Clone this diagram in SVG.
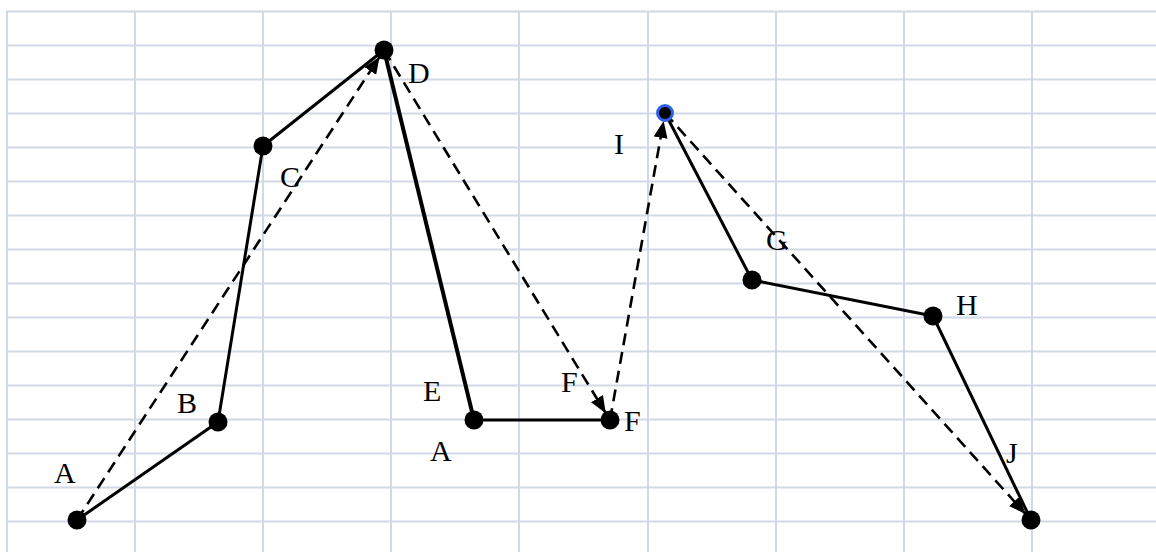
<svg xmlns="http://www.w3.org/2000/svg" width="1156" height="552" viewBox="0 0 1156 552">
<style>
.grid line{stroke:#d2d9e6;stroke-width:2}
.solid{fill:none;stroke:#000;stroke-width:3;stroke-linejoin:round}
.thick{fill:none;stroke:#000;stroke-width:4}
.dash{fill:none;stroke:#000;stroke-width:2.6;stroke-dasharray:12 7}
.dot{fill:#000}
.lbl{font-family:"Liberation Serif","Times New Roman",serif;font-size:30px;fill:#000}
</style>
<defs>
<marker id="arr" markerUnits="userSpaceOnUse" markerWidth="18" markerHeight="14" refX="17" refY="7" orient="auto">
<path d="M0,0 L17,7 L0,14 z" fill="#000"/>
</marker>
</defs>
<rect width="1156" height="552" fill="#fff"/>
<g class="grid" id="grid">
<line x1="6" y1="11.5" x2="1156" y2="11.5"/>
<line x1="6" y1="45.5" x2="1156" y2="45.5"/>
<line x1="6" y1="79.5" x2="1156" y2="79.5"/>
<line x1="6" y1="113.5" x2="1156" y2="113.5"/>
<line x1="6" y1="147.5" x2="1156" y2="147.5"/>
<line x1="6" y1="181.5" x2="1156" y2="181.5"/>
<line x1="6" y1="215.5" x2="1156" y2="215.5"/>
<line x1="6" y1="249.5" x2="1156" y2="249.5"/>
<line x1="6" y1="283.5" x2="1156" y2="283.5"/>
<line x1="6" y1="317.5" x2="1156" y2="317.5"/>
<line x1="6" y1="351.5" x2="1156" y2="351.5"/>
<line x1="6" y1="385.5" x2="1156" y2="385.5"/>
<line x1="6" y1="419.5" x2="1156" y2="419.5"/>
<line x1="6" y1="453.5" x2="1156" y2="453.5"/>
<line x1="6" y1="487.5" x2="1156" y2="487.5"/>
<line x1="6" y1="521.5" x2="1156" y2="521.5"/>
<line x1="7" y1="11.5" x2="7" y2="552"/>
<line x1="135" y1="11.5" x2="135" y2="552"/>
<line x1="263" y1="11.5" x2="263" y2="552"/>
<line x1="391" y1="11.5" x2="391" y2="552"/>
<line x1="519" y1="11.5" x2="519" y2="552"/>
<line x1="648" y1="11.5" x2="648" y2="552"/>
<line x1="776" y1="11.5" x2="776" y2="552"/>
<line x1="904" y1="11.5" x2="904" y2="552"/>
<line x1="1032" y1="11.5" x2="1032" y2="552"/>
</g>
<g id="connectors">
<polyline class="solid" points="77,520 218,422 263,146 384,50"/>
<line class="thick" x1="384" y1="50" x2="474" y2="420"/>
<line class="solid" x1="474" y1="420" x2="610" y2="420"/>
<polyline class="solid" points="665,113 752,280 933,316 1031,520"/>
<line class="dash" x1="77" y1="520" x2="379.6" y2="56.7" marker-end="url(#arr)"/>
<line class="dash" x1="384" y1="50" x2="605.8" y2="413.2" marker-end="url(#arr)"/>
<line class="dash" x1="610" y1="420" x2="663.6" y2="120.9" marker-end="url(#arr)"/>
<line class="dash" x1="665" y1="113" x2="1025.6" y2="514" marker-end="url(#arr)"/>
</g>
<g id="node-A"><circle class="dot" cx="77" cy="520" r="9.5"/><text class="lbl" x="54" y="483">A</text></g>
<g id="node-B"><circle class="dot" cx="218" cy="422" r="9.5"/><text class="lbl" x="177" y="413">B</text></g>
<g id="node-C"><circle class="dot" cx="263" cy="146" r="9.5"/><text class="lbl" x="280" y="187">C</text></g>
<g id="node-D"><circle class="dot" cx="384" cy="50" r="9.5"/><text class="lbl" x="408" y="83">D</text></g>
<g id="node-E"><circle class="dot" cx="474" cy="420" r="9.5"/><text class="lbl" x="423" y="401">E</text><text class="lbl" x="430" y="461">A</text></g>
<g id="node-F"><circle class="dot" cx="610" cy="420" r="9.5"/><text class="lbl" x="561" y="392">F</text><text class="lbl" x="624" y="431">F</text></g>
<g id="node-I"><circle cx="665" cy="113" r="7.5" fill="#000" stroke="#2f62e8" stroke-width="3"/><text class="lbl" x="614" y="154">I</text></g>
<g id="node-G"><circle class="dot" cx="752" cy="280" r="9.5"/><text class="lbl" x="766" y="250">G</text></g>
<g id="node-H"><circle class="dot" cx="933" cy="316" r="9.5"/><text class="lbl" x="956" y="315">H</text></g>
<g id="node-J"><circle class="dot" cx="1031" cy="520" r="9.5"/><text class="lbl" x="1006" y="463">J</text></g>
</svg>
